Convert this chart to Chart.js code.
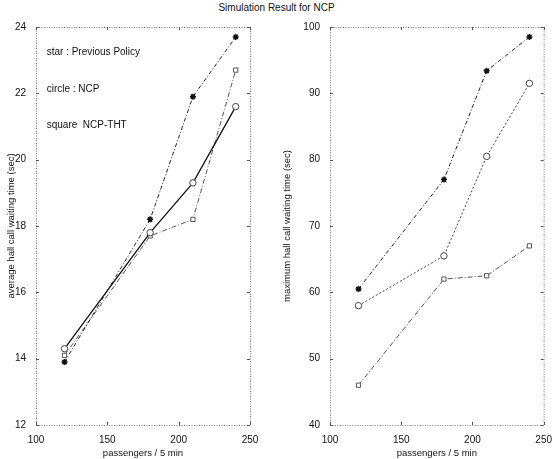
<!DOCTYPE html>
<html>
<head>
<meta charset="utf-8">
<script src="https://cdn.jsdelivr.net/npm/chart.js@4"></script>
<style>
  body { margin: 0; background: #fff; }
  #wrap { position: relative; width: 553px; height: 459px; }
  #title { position: absolute; left: 0; top: 2px; width: 553px; text-align: center;
           font: 10px "Liberation Sans", Arial, sans-serif; color: #111; }
  .box { position: absolute; top: 0; height: 459px; }
</style>
</head>
<body>
<div id="wrap">
  <div id="title">Simulation Result for NCP</div>
  <div class="box" style="left:0;width:276px"><canvas id="avgChart"></canvas></div>
  <div class="box" style="left:276px;width:277px"><canvas id="maxChart"></canvas></div>
</div>
<script>
const passengers = [120, 180, 210, 240];

const avgPrevious = [13.9, 18.2, 21.9, 23.7];
const avgNCP = [14.3, 17.8, 19.3, 21.6];
const avgNCPTHT = [14.1, 17.7, 18.2, 22.7];

const maxPrevious = [60.5, 77.0, 93.4, 98.5];
const maxNCP = [58.0, 65.5, 80.5, 91.5];
const maxNCPTHT = [46.0, 62.0, 62.5, 67.0];

const legendNotes = ['star : Previous Policy', 'circle : NCP', 'square  NCP-THT'];

const FONT = '"Liberation Sans", Arial, sans-serif';

// dotted box + inward ticks, matlab style
const boxPlugin = {
  id: 'box',
  afterDraw(chart) {
    const ctx = chart.ctx;
    const a = chart.chartArea;
    ctx.save();
    ctx.strokeStyle = '#777';
    ctx.lineWidth = 1;
    ctx.setLineDash([1, 1.5]);
    ctx.strokeRect(a.left + 0.5, a.top + 0.5, a.right - a.left, a.bottom - a.top);
    ctx.setLineDash([]);
    ctx.strokeStyle = '#555';
    const xs = chart.scales.x, ys = chart.scales.y;
    xs.ticks.forEach(t => {
      const px = Math.round(xs.getPixelForValue(t.value)) + 0.5;
      ctx.beginPath();
      ctx.moveTo(px, a.bottom); ctx.lineTo(px, a.bottom - 3);
      ctx.moveTo(px, a.top); ctx.lineTo(px, a.top + 3);
      ctx.stroke();
    });
    ys.ticks.forEach(t => {
      const py = Math.round(ys.getPixelForValue(t.value)) + 0.5;
      ctx.beginPath();
      ctx.moveTo(a.left, py); ctx.lineTo(a.left + 3, py);
      ctx.moveTo(a.right, py); ctx.lineTo(a.right - 3, py);
      ctx.stroke();
    });
    ctx.restore();
  }
};

const notesPlugin = {
  id: 'notes',
  afterDraw(chart) {
    if (chart.canvas.id !== 'avgChart') return;
    const ctx = chart.ctx;
    const xs = chart.scales.x, ys = chart.scales.y;
    const yVals = [23.25, 22.13, 21.05];
    ctx.save();
    ctx.fillStyle = '#111';
    ctx.font = '10px ' + FONT;
    ctx.textBaseline = 'middle';
    legendNotes.forEach((txt, i) => {
      ctx.fillText(txt, xs.getPixelForValue(107.5), ys.getPixelForValue(yVals[i]));
    });
    ctx.restore();
  }
};

function makeSeries(prev, ncp, tht, ncpSolid) {
  return [
    { label: 'Previous Policy', data: prev, borderColor: '#222', backgroundColor: '#111',
      borderWidth: 1, borderDash: [4, 2, 1, 2], pointStyle: 'star', pointRadius: 3,
      pointBorderWidth: 1.5, pointBorderColor: '#111' },
    { label: 'NCP', data: ncp, borderColor: ncpSolid ? '#111' : '#444', backgroundColor: '#fff',
      borderWidth: ncpSolid ? 1.3 : 1, borderDash: ncpSolid ? [] : [2, 2],
      pointStyle: 'circle', pointRadius: 3.2,
      pointBorderWidth: 1, pointBorderColor: '#444' },
    { label: 'NCP-THT', data: tht, borderColor: '#555', backgroundColor: '#fff',
      borderWidth: 1, borderDash: [5, 2, 1, 2], pointStyle: 'rect', pointRadius: 3,
      pointBorderWidth: 1, pointBorderColor: '#555' }
  ];
}

function makeChart(id, series, yMin, yMax, yStep, yTitle, yWidth, padRight) {
  new Chart(document.getElementById(id), {
    type: 'line',
    data: {
      datasets: series.map(s => Object.assign({}, s, {
        data: s.data.map((v, i) => ({ x: passengers[i], y: v })),
        tension: 0
      }))
    },
    options: {
      responsive: true,
      maintainAspectRatio: false,
      animation: false,
      layout: { padding: { top: 27, right: padRight, bottom: 0, left: 6 } },
      plugins: { legend: { display: false }, tooltip: { enabled: false } },
      scales: {
        x: {
          type: 'linear', min: 100, max: 250,
          ticks: { stepSize: 50, color: '#111', padding: 1, maxRotation: 0,
                   font: { family: FONT, size: 10 } },
          grid: { display: false },
          border: { display: false },
          title: { display: true, text: 'passengers / 5 min', color: '#111',
                   padding: { top: 0, bottom: 0 }, font: { family: FONT, size: 9.5 } },
          afterFit(scale) { scale.height = 34; }
        },
        y: {
          min: yMin, max: yMax,
          ticks: { stepSize: yStep, color: '#111', padding: 2,
                   font: { family: FONT, size: 10 } },
          grid: { display: false },
          border: { display: false },
          title: { display: true, text: yTitle, color: '#111',
                   padding: { top: 0, bottom: 0 }, font: { family: FONT, size: 9.5 } },
          afterFit(scale) { scale.width = yWidth; }
        }
      }
    },
    plugins: [boxPlugin, notesPlugin]
  });
}

makeChart('avgChart', makeSeries(avgPrevious, avgNCP, avgNCPTHT, true), 12, 24, 2,
  'average hall call waiting time (sec)', 30, 26);
makeChart('maxChart', makeSeries(maxPrevious, maxNCP, maxNCPTHT, false), 40, 100, 10,
  'maximum hall call waiting time (sec)', 48, 9);
</script>
</body>
</html>
